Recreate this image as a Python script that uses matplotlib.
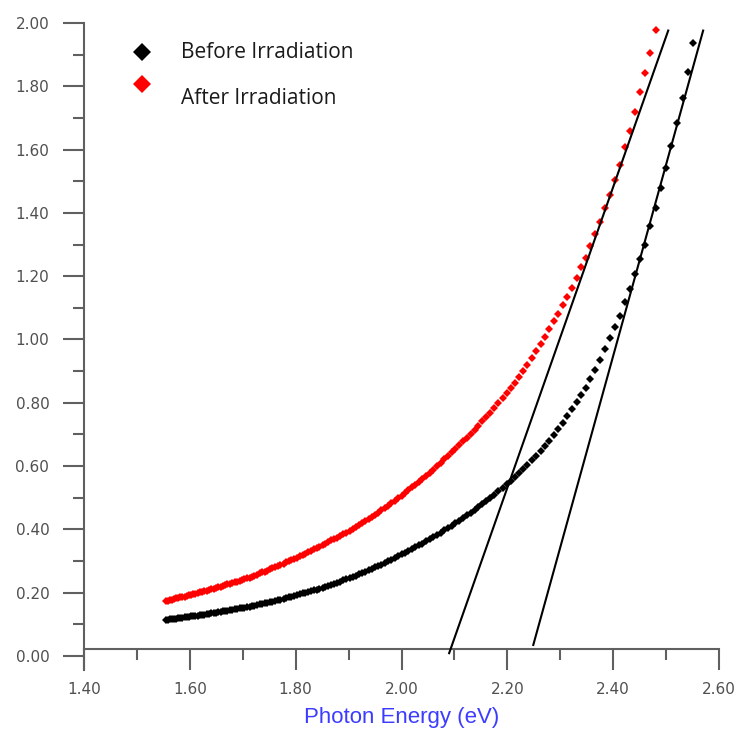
import matplotlib
matplotlib.use('Agg')
from matplotlib import pyplot as plt
from matplotlib.ticker import MultipleLocator, FormatStrFormatter

photon_energy = [
    1.554, 1.558, 1.562, 1.566, 1.570, 1.574, 1.578, 1.582, 1.586, 1.590,
    1.594, 1.598, 1.602, 1.606, 1.610, 1.615, 1.619, 1.623, 1.627, 1.632,
    1.636, 1.640, 1.645, 1.649, 1.653, 1.658, 1.662, 1.667, 1.671, 1.676,
    1.680, 1.685, 1.689, 1.694, 1.699, 1.703, 1.708, 1.713, 1.717, 1.722,
    1.727, 1.732, 1.737, 1.742, 1.746, 1.751, 1.756, 1.761, 1.766, 1.771,
    1.777, 1.782, 1.787, 1.792, 1.797, 1.802, 1.808, 1.813, 1.818, 1.824,
    1.829, 1.834, 1.840, 1.845, 1.851, 1.856, 1.862, 1.867, 1.873, 1.879,
    1.884, 1.890, 1.896, 1.902, 1.908, 1.914, 1.920, 1.925, 1.931, 1.938,
    1.944, 1.950, 1.956, 1.962, 1.968, 1.975, 1.981, 1.987, 1.994,
    2.000, 2.006, 2.013, 2.020, 2.026, 2.033, 2.039, 2.046, 2.053, 2.060,
    2.067, 2.074, 2.081, 2.088, 2.095, 2.102, 2.109, 2.116, 2.123, 2.131,
    2.138, 2.145, 2.153, 2.160, 2.168, 2.175, 2.183, 2.191, 2.199, 2.206,
    2.214, 2.222, 2.230, 2.238, 2.246, 2.255, 2.263, 2.271, 2.279, 2.288,
    2.296, 2.305, 2.313, 2.322, 2.331, 2.340, 2.348, 2.357, 2.366, 2.375,
    2.385, 2.394, 2.403, 2.412, 2.422, 2.431, 2.441, 2.451, 2.460, 2.470,
    2.480, 2.490, 2.500, 2.510, 2.520, 2.531, 2.541, 2.551,
]

before_irr = [
    0.114, 0.115, 0.116, 0.117, 0.118, 0.118, 0.119, 0.120, 0.121, 0.122,
    0.123, 0.124, 0.125, 0.126, 0.127, 0.128, 0.129, 0.130, 0.131, 0.133,
    0.134, 0.135, 0.136, 0.137, 0.138, 0.140, 0.141, 0.142, 0.143, 0.145,
    0.146, 0.148, 0.149, 0.151, 0.152, 0.153, 0.154, 0.156, 0.157, 0.159,
    0.161, 0.163, 0.164, 0.166, 0.168, 0.170, 0.172, 0.174, 0.176, 0.178,
    0.180, 0.183, 0.185, 0.188, 0.190, 0.193, 0.195, 0.198, 0.200, 0.203,
    0.205, 0.208, 0.210, 0.213, 0.216, 0.219, 0.222, 0.225, 0.228, 0.232,
    0.235, 0.239, 0.242, 0.246, 0.250, 0.254, 0.258, 0.262, 0.266, 0.271,
    0.275, 0.280, 0.284, 0.289, 0.294, 0.299, 0.304, 0.310, 0.315,
    0.321, 0.326, 0.332, 0.338, 0.343, 0.350, 0.355, 0.362, 0.369, 0.375,
    0.382, 0.389, 0.397, 0.404, 0.412, 0.420, 0.428, 0.436, 0.444, 0.453,
    0.462, 0.471, 0.481, 0.490, 0.500, 0.510, 0.521, 0.532, 0.543, 0.554,
    0.566, 0.579, 0.592, 0.605, 0.618, 0.633, 0.648, 0.664, 0.680, 0.698,
    0.716, 0.737, 0.757, 0.779, 0.802, 0.826, 0.848, 0.874, 0.903, 0.934,
    0.970, 1.005, 1.040, 1.075, 1.117, 1.161, 1.207, 1.253, 1.300, 1.357,
    1.417, 1.479, 1.543, 1.612, 1.684, 1.762, 1.845, 1.938,
]

after_irr = [
    0.173, 0.175, 0.176, 0.178, 0.180, 0.182, 0.183, 0.185, 0.186, 0.188,
    0.190, 0.192, 0.193, 0.195, 0.197, 0.199, 0.201, 0.203, 0.205, 0.207,
    0.209, 0.211, 0.213, 0.215, 0.217, 0.219, 0.221, 0.224, 0.226, 0.228,
    0.230, 0.233, 0.235, 0.238, 0.240, 0.243, 0.245, 0.248, 0.251, 0.254,
    0.257, 0.261, 0.264, 0.267, 0.270, 0.274, 0.277, 0.281, 0.284, 0.288,
    0.292, 0.296, 0.299, 0.303, 0.307, 0.311, 0.315, 0.319, 0.323, 0.328,
    0.332, 0.337, 0.341, 0.346, 0.350, 0.355, 0.360, 0.365, 0.369, 0.374,
    0.379, 0.385, 0.390, 0.396, 0.402, 0.408, 0.414, 0.420, 0.426, 0.433,
    0.440, 0.447, 0.453, 0.460, 0.467, 0.475, 0.483, 0.491, 0.499,
    0.507, 0.515, 0.524, 0.533, 0.541, 0.550, 0.559, 0.569, 0.579, 0.589,
    0.599, 0.610, 0.621, 0.632, 0.643, 0.654, 0.666, 0.678, 0.690, 0.701,
    0.713, 0.726, 0.741, 0.754, 0.769, 0.783, 0.799, 0.815, 0.831, 0.846,
    0.863, 0.881, 0.900, 0.920, 0.941, 0.965, 0.986, 1.009, 1.032, 1.058,
    1.082, 1.108, 1.133, 1.163, 1.195, 1.228, 1.259, 1.295, 1.332, 1.371,
    1.415, 1.458, 1.503, 1.551, 1.607, 1.660, 1.720, 1.782, 1.842, 1.906,
    1.978,
]

# linear extrapolations to the energy axis (band gap)
fit_before_x = [2.249, 2.570]
fit_before_y = [0.035, 1.976]
fit_after_x = [2.090, 2.504]
fit_after_y = [0.009, 1.976]

axis_grey = '#606060'

fig = plt.figure(figsize=(7.37, 7.29), dpi=100)
ax = fig.add_axes([0.114, 0.081, 0.8616, 0.8875])

ax.plot(photon_energy[:len(after_irr)], after_irr, 'D', color='#ff0000',
        ms=3.8, mew=0, zorder=3)
ax.plot(photon_energy, before_irr, 'D', color='black', ms=3.8, mew=0, zorder=3)
ax.plot(fit_after_x, fit_after_y, '-', color='black', lw=1.5, zorder=4)
ax.plot(fit_before_x, fit_before_y, '-', color='black', lw=1.5, zorder=4)

ax.set_xlim(1.4, 2.6)
ax.set_ylim(-0.044, 2.0)

for s in ['top', 'right']:
    ax.spines[s].set_visible(False)
ax.spines['bottom'].set_position(('data', 0.022))
for s in ['bottom', 'left']:
    ax.spines[s].set_color(axis_grey)
    ax.spines[s].set_linewidth(1.5)

ax.xaxis.set_major_locator(MultipleLocator(0.2))
ax.xaxis.set_minor_locator(MultipleLocator(0.1))
ax.yaxis.set_minor_locator(MultipleLocator(0.1))
ax.xaxis.set_major_formatter(FormatStrFormatter('%.2f'))
ax.yaxis.set_major_formatter(FormatStrFormatter('%.2f'))
ax.set_yticks([i * 0.2 for i in range(11)])

ax.tick_params(which='major', direction='out', length=15, width=1.5,
               color=axis_grey, labelcolor='#505050', labelsize=11)
ax.tick_params(which='minor', direction='out', length=8, width=1.5,
               color=axis_grey)
ax.tick_params(axis='x', which='major', pad=9)
ax.tick_params(axis='y', which='major', pad=10)

ax.set_xlabel('Photon Energy (eV)', color='#3c3cff', fontsize=16,
              family='Liberation Sans', labelpad=7)

# legend keys
ax.plot([0.091], [0.955], 'D', color='black', ms=9.2, mew=0,
        transform=ax.transAxes, clip_on=False)
ax.plot([0.091], [0.906], 'D', color='#ff0000', ms=9.2, mew=0,
        transform=ax.transAxes, clip_on=False)
ax.text(0.152, 0.954, 'Before Irradiation', transform=ax.transAxes,
        va='center', ha='left', fontsize=15, family='Open Sans', color='#1a1a1a')
ax.text(0.152, 0.884, 'After Irradiation', transform=ax.transAxes,
        va='center', ha='left', fontsize=15, family='Open Sans', color='#1a1a1a')

fig.savefig('out.png', dpi=100, facecolor='white')
